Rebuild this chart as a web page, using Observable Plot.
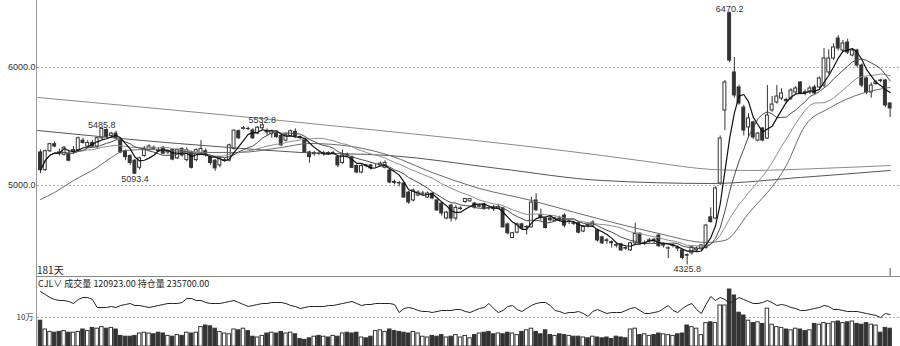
<!DOCTYPE html>
<html>
<head>
<meta charset="utf-8">
<script src="https://cdn.jsdelivr.net/npm/d3@7"></script>
<script src="https://cdn.jsdelivr.net/npm/@observablehq/plot@0.6"></script>
<style>
html, body { margin: 0; padding: 0; background: #fff; }
#chart { position: relative; width: 900px; height: 346px; overflow: hidden; background: #fff; }
#chart svg { position: absolute; left: 0; }
.vline { position: absolute; left: 36px; top: 0; width: 1px; height: 346px; background: #9a9a9a; }
.hline { position: absolute; left: 37px; top: 276px; width: 863px; height: 1px; background: #8a8a8a; }
.days { position: absolute; left: 37px; top: 264px; font: 10px "Noto Sans CJK SC", sans-serif; line-height: 12px; color: #222; }
.info { position: absolute; left: 38px; top: 278px; font: 9px "Noto Sans CJK SC", sans-serif; line-height: 12px; color: #222; white-space: pre; }
</style>
</head>
<body>
<div id="chart">
  <div class="vline"></div>
  <div class="hline"></div>
  <div class="days" id="days"></div>
  <div class="info" id="info"></div>
</div>
<script>
// ---------- data ----------
const dayCountLabel = "181天";
const volNow = 120923;
const oiNow = 235700;

const open = [
5280,5130,5290,5350,5280,5260,5270,5290,5300,5380,
5330,5360,5330,5400,5470,5420,5440,5380,5290,5250,
5210,5150,5250,5300,5320,5300,5320,5280,5300,5230,
5310,5215,5280,5215,5270,5290,5240,5210,5170,5210,
5210,5310,5460,5480,5480,5466,5440,5485,5460,5435,
5440,5420,5380,5420,5455,5410,5390,5280,5265,5270,
5265,5275,5270,5240,5190,5260,5240,5165,5110,5170,
5170,5165,5170,5150,5127,5030,5020,5017,4940,4873,
4915,4930,4898,4930,4873,4847,4720,4830,4720,4800,
4860,4865,4847,4820,4840,4810,4815,4800,4805,4670,
4555,4600,4670,4645,4645,4873,4750,4720,4720,4700,
4720,4745,4690,4680,4680,4610,4665,4660,4620,4560,
4535,4520,4495,4500,4470,4450,4510,4590,4505,4530,
4540,4575,4490,4465,4490,4470,4450,4410,4425,4450,
4466,4470,4730,4720,5017,5636,6460,5958,5831,5660,
5492,5534,5381,5483,5398,5636,5703,5737,5725,5737,
5788,5873,5790,5788,5831,5831,5847,5958,6076,6246,
6144,6212,6102,6144,6017,5907,5788,5860,5890,5890,
5695];

const high = [
5300,5300,5360,5370,5310,5330,5290,5330,5410,5400,
5380,5380,5410,5485.8,5480,5450,5460,5400,5300,5260,
5220,5240,5330,5345,5335,5320,5330,5300,5310,5310,
5320,5320,5290,5310,5380,5310,5250,5220,5240,5230,
5350,5470,5470,5500,5495,5480,5500,5532.8,5480,5470,
5450,5430,5440,5470,5480,5420,5400,5290,5290,5285,
5290,5285,5290,5250,5300,5275,5250,5175,5175,5180,
5180,5180,5200,5210,5140,5045,5035,5025,4950,4970,
4955,4950,4945,4940,4880,4860,4780,4840,4830,4820,
4890,4890,4855,4840,4850,4820,4830,4840,4815,4680,
4600,4680,4680,4660,4900,4930,4800,4730,4740,4730,
4740,4760,4710,4690,4690,4660,4680,4700,4630,4570,
4550,4530,4510,4510,4480,4520,4680,4600,4530,4550,
4550,4590,4510,4480,4505,4490,4460,4420,4490,4480,
4500,4670,4810,4990,5420,5890,6470.2,6085,5850,5680,
5610,5545,5450,5490,5847,5754,5847,5820,5740,5820,
5840,5880,5810,5840,5850,5920,6161,6150,6200,6271,
6230,6240,6160,6155,6030,5920,5870,5890,5900,5900,
5700];

const low = [
5100,5120,5280,5320,5250,5250,5200,5260,5290,5350,
5320,5320,5310,5390,5400,5410,5390,5270,5210,5170,
5093.4,5130,5240,5290,5300,5280,5260,5260,5210,5220,
5240,5200,5140,5200,5260,5240,5170,5120,5150,5200,
5200,5300,5390,5470,5465,5390,5430,5470,5420,5400,
5400,5330,5370,5410,5400,5390,5270,5190,5250,5255,
5250,5255,5260,5150,5180,5245,5145,5100,5100,5150,
5130,5150,5160,5140,5015,5005,4990,4890,4840,4860,
4905,4915,4890,4880,4780,4740,4710,4690,4700,4790,
4850,4860,4800,4810,4790,4790,4780,4795,4640,4580,
4550,4590,4630,4580,4640,4780,4700,4630,4690,4690,
4690,4640,4670,4660,4590,4600,4640,4650,4520,4500,
4500,4470,4470,4440,4450,4440,4500,4495,4490,4510,
4500,4475,4470,4380,4470,4440,4370,4325.8,4410,4440,
4450,4460,4680,4710,5000,5466,6040,5740,5680,5420,
5400,5390,5370,5370,5390,5620,5690,5720,5690,5720,
5770,5770,5760,5770,5770,5820,5830,5940,6060,6140,
6130,6110,6090,6000,5830,5770,5740,5850,5870,5660,
5576];

const close = [
5130,5290,5350,5330,5270,5320,5210,5300,5400,5360,
5360,5330,5400,5480,5410,5440,5400,5280,5240,5190,
5100,5230,5310,5330,5310,5290,5270,5290,5220,5300,
5255,5300,5150,5300,5310,5255,5190,5145,5230,5215,
5340,5465,5400,5485,5478,5400,5490,5510,5450,5460,
5410,5340,5430,5460,5415,5405,5280,5240,5275,5268,
5275,5270,5275,5170,5255,5255,5150,5110,5165,5165,
5145,5165,5185,5190,5025,5022,5017,4898,4856,4958,
4940,4932,4932,4890,4788,4763,4770,4720,4810,4805,
4885,4885,4814,4825,4800,4805,4800,4815,4645,4595,
4595,4670,4635,4648,4855,4790,4730,4640,4705,4720,
4715,4660,4695,4675,4600,4650,4660,4685,4534,4510,
4530,4510,4490,4450,4465,4510,4590,4505,4510,4535,
4530,4485,4495,4468,4495,4465,4385,4405,4475,4465,
4492,4660,4690,4975,5398,5873,6059,5763,5695,5466,
5568,5407,5440,5381,5593,5686,5754,5780,5715,5805,
5822,5780,5785,5822,5780,5907,6076,6076,6170,6161,
6203,6127,6144,6017,5847,5788,5847,5873,5885,5678,
5653];

const vol = [
96000,85000,82000,81000,82000,83000,81000,81000,82000,85000,
83000,87000,86000,88000,86000,87000,85000,77000,76000,76000,
77000,80000,81000,80000,79000,81000,80000,77000,76000,78000,
77000,81000,80000,81000,88000,90000,89000,86000,82000,80000,
79000,85000,84000,86000,83000,76000,75000,77000,80000,81000,
80000,82000,80000,81000,79000,73000,72000,74000,76000,77000,
76000,75000,77000,76000,80000,81000,80000,81000,75000,74000,
76000,83000,84000,82000,85000,83000,82000,81000,80000,82000,
80000,76000,75000,77000,76000,78000,75000,76000,78000,75000,
77000,74000,78000,80000,81000,82000,79000,80000,79000,81000,
80000,78000,82000,84000,86000,82000,79000,84000,78000,77000,
79000,78000,77000,76000,76000,75000,74000,76000,75000,74000,
75000,73000,76000,75000,74000,85000,86000,78000,79000,77000,
78000,80000,79000,78000,77000,79000,80000,90000,88000,86000,
78000,93000,94000,93000,115000,115000,135000,127500,106000,102500,
96000,93000,94000,92000,111000,91000,88000,87000,85000,84000,
86000,85000,83000,84000,92000,91000,93000,92000,94000,95000,
93000,94000,95000,92000,91000,93000,91000,90000,81000,87000,
86000];

const oi = [
258700,255700,252700,250700,249700,249700,248700,246700,250700,252700,
252700,250700,242700,242700,242700,243700,242700,244700,245700,246700,
244700,244700,243700,242700,243700,244700,245700,246700,246700,246700,
247700,251700,251700,249700,249700,247700,246700,246700,246700,247700,
248700,249700,247700,245700,243700,244700,245700,246700,246700,247700,
247700,247700,246700,244700,243700,241700,242700,243700,243700,243700,
243700,244700,244700,245700,246700,247700,248700,246700,244700,245700,
245700,246700,246700,246700,246700,245700,237700,241700,242700,241700,
239700,238700,238700,237700,238700,239700,239700,239700,240700,240700,
238700,237700,239700,241700,242700,246700,241700,237700,239700,243700,
244700,240700,238700,241700,244700,246700,247700,247700,244700,239700,
238700,236700,237700,237700,238700,236700,233700,238700,240700,238700,
236700,237700,237700,237700,239700,241700,242700,239700,236700,236700,
237700,238700,241700,244700,239700,237700,241700,244700,246700,240700,
236700,245700,253700,249700,252700,250700,246700,249700,252700,250700,
248700,246700,246700,247700,249700,247700,244700,245700,244700,242700,
241700,239700,239700,240700,241700,242700,244700,243700,240700,240700,
239700,238700,238700,238700,237700,236700,235700,234700,232700,236700,
235700];

// long moving averages (candle index, price)
const slowIdx = [0,3,7,12,15,18,23,34,42,51,57,66,74,83,93,104,114,123,131,141,145,150,158,162,167,174,180];
const slowVal = [4881,4941,5042,5153,5237,5297,5305,5280,5280,5322,5356,5330,5254,5110,4975,4873,4763,4669,4593,4517,4534,4763,5169,5508,5653,5780,5831];
const lineAIdx = [-0.6,55,119,130,136,142,150,165,180];
const lineAVal = [5746,5534,5254,5195,5161,5136,5127,5144,5169];
const lineBIdx = [-0.6,29,40,55,74,97,119,142,161,180];
const lineBVal = [5466,5356,5322,5280,5254,5144,5042,5017,5068,5127];

// annotated extremes (candle index)
const highMarkIdx = [13, 47, 146];
const lowMarkIdx = [20, 137];

const yTicks = [5000, 6000];
const volTicks = [100000];

// scale settings
const xDomain = [-0.636, 182.2];
const yDomain = [4220, 6568];
const volDomain = [63750, 150000];
const oiDomain = [203700, 272700];

// ---------- build ----------
const fmt1 = d3.format(".1f");
const fmt2 = d3.format(".2f");
const candles = close.map((c, i) => ({i, o: open[i], h: high[i], l: low[i], c, up: c >= open[i], v: vol[i], oi: oi[i]}));
const up = candles.filter(d => d.up);
const dn = candles.filter(d => !d.up);
const knots = (idx, val) => idx.map((i, k) => ({i, v: val[k]}));
const hiMarks = highMarkIdx.map(i => ({i, v: high[i]}));
const loMarks = lowMarkIdx.map(i => ({i, v: low[i]}));

const hw = 0.31;  // half body width (candle units)
const vw = 0.37;  // half volume-bar width
const dark = "#333";
const numFont = "Liberation Sans, Arial, sans-serif";

const main = Plot.plot({
  width: 900, height: 277,
  marginTop: 0, marginRight: 0, marginBottom: 0, marginLeft: 37,
  style: {background: "transparent", fontFamily: numFont},
  x: {domain: xDomain, axis: null},
  y: {domain: yDomain},
  marks: [
    Plot.gridY(yTicks, {stroke: "#a8a8a8", strokeOpacity: 1, strokeDasharray: "2,2"}),
    Plot.axisY(yTicks, {tickSize: 0, tickPadding: 2, tickFormat: fmt1, fontSize: 9, fill: "#333", label: null}),
    Plot.ruleX(candles, {x: "i", y1: "l", y2: "h", stroke: dark, strokeWidth: 1}),
    Plot.rect(dn, {x1: d => d.i - hw, x2: d => d.i + hw, y1: "o", y2: "c", fill: dark, stroke: dark, strokeWidth: 1}),
    Plot.rect(up, {x1: d => d.i - hw, x2: d => d.i + hw, y1: "o", y2: "c", fill: "#fff", stroke: dark, strokeWidth: 1}),
    Plot.line(knots(lineAIdx, lineAVal), {x: "i", y: "v", stroke: "#8a8a8a", strokeWidth: 1, curve: "monotone-x"}),
    Plot.line(knots(lineBIdx, lineBVal), {x: "i", y: "v", stroke: "#555", strokeWidth: 1, curve: "monotone-x"}),
    Plot.line(knots(slowIdx, slowVal), {x: "i", y: "v", stroke: "#6a6a6a", strokeWidth: 1, curve: "monotone-x"}),
    Plot.line(candles, Plot.windowY({k: 20, anchor: "end"}, {x: "i", y: "c", stroke: "#8c8c8c", strokeWidth: 1})),
    Plot.line(candles, Plot.windowY({k: 10, anchor: "end"}, {x: "i", y: "c", stroke: "#4a4a4a", strokeWidth: 1})),
    Plot.line(candles, Plot.windowY({k: 5, anchor: "end"}, {x: "i", y: "c", stroke: "#111", strokeWidth: 1.2})),
    Plot.text(hiMarks, {x: "i", y: "v", text: d => fmt1(d.v), lineAnchor: "bottom", dy: 0, fontSize: 9, fill: "#333"}),
    Plot.text(loMarks, {x: "i", y: "v", text: d => fmt1(d.v), lineAnchor: "top", dy: 1, fontSize: 9, fill: "#333"}),
    Plot.ruleX([close.length - 1], {insetTop: 268, stroke: "#555", strokeWidth: 1})
  ]
});

const volPlot = Plot.plot({
  width: 900, height: 69,
  marginTop: 0, marginRight: 0, marginBottom: 0, marginLeft: 37,
  style: {background: "transparent", fontFamily: "Noto Sans CJK SC, sans-serif"},
  x: {domain: xDomain, axis: null},
  y: {domain: volDomain, clamp: true},
  marks: [
    Plot.gridY(volTicks, {stroke: "#a8a8a8", strokeOpacity: 1, strokeDasharray: "2,2"}),
    Plot.axisY(volTicks, {tickSize: 0, tickPadding: 4, tickFormat: d => (d / 10000) + "万", fontSize: 8, fill: "#333", label: null}),
    Plot.rect(dn, {x1: d => d.i - vw, x2: d => d.i + vw, y1: 0, y2: "v", fill: dark, stroke: dark, strokeWidth: 1}),
    Plot.rect(up, {x1: d => d.i - vw, x2: d => d.i + vw, y1: 0, y2: "v", fill: "#fff", stroke: dark, strokeWidth: 1})
  ]
});

const oiPlot = Plot.plot({
  width: 900, height: 69,
  marginTop: 0, marginRight: 0, marginBottom: 0, marginLeft: 37,
  style: {background: "transparent"},
  x: {domain: xDomain, axis: null},
  y: {domain: oiDomain, axis: null},
  marks: [
    Plot.line(candles, {x: "i", y: "oi", stroke: "#222", strokeWidth: 1})
  ]
});

const root = document.getElementById("chart");
[[main, 0], [volPlot, 277], [oiPlot, 277]].forEach(([svg, top]) => {
  svg.style.position = "absolute";
  svg.style.top = top + "px";
  svg.style.left = "0px";
  root.appendChild(svg);
});
// keep the decorative rules above the plots
root.appendChild(root.querySelector(".vline"));
root.appendChild(root.querySelector(".hline"));
const days = document.getElementById("days");
days.textContent = dayCountLabel;
root.appendChild(days);
const info = document.getElementById("info");
info.textContent = "CJL\u2228 成交量 " + fmt2(volNow) + " 持仓量 " + fmt2(oiNow);
root.appendChild(info);
</script>
</body>
</html>
